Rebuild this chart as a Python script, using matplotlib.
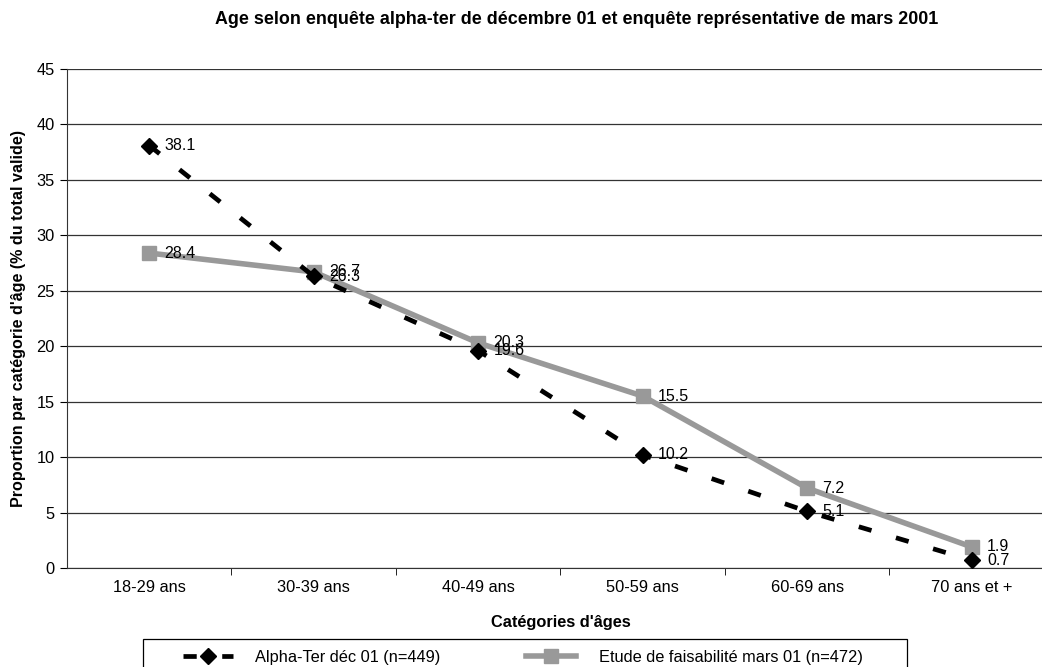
import matplotlib
matplotlib.use('Agg')
import matplotlib.pyplot as plt
from matplotlib.lines import Line2D
from matplotlib.patches import Rectangle

plt.rcParams['font.family'] = ['Liberation Sans', 'DejaVu Sans']

categories = ['18-29 ans', '30-39 ans', '40-49 ans', '50-59 ans', '60-69 ans', '70 ans et +']
alpha_ter = [38.1, 26.3, 19.6, 10.2, 5.1, 0.7]
etude = [28.4, 26.7, 20.3, 15.5, 7.2, 1.9]
yticks = list(range(0, 50, 5))
series_labels = ['Alpha-Ter déc 01 (n=449)', 'Etude de faisabilité mars 01 (n=472)']

W, H = 1042, 667
FS = 11.8
fig = plt.figure(figsize=(W / 100, H / 100), dpi=100, facecolor='white')
ax = fig.add_axes([67 / W, 1 - 568 / H, (1054 - 67) / W, (568 - 69) / H])

x = list(range(len(categories)))
GRAY = '#999999'
DASH = (0, (2.8, 5.4))
ax.plot(x, etude, color=GRAY, lw=4, marker='s', ms=10, mfc=GRAY, mec=GRAY, zorder=3)
ax.plot(x, alpha_ter, color='black', lw=3.4, ls=DASH, marker='D', ms=8,
        mfc='black', mec='black', zorder=4)

for series in (alpha_ter, etude):
    for xi, v in zip(x, series):
        ax.annotate(f'{v:.1f}', (xi, v), xytext=(11, 0), textcoords='offset points',
                    va='center', ha='left', fontsize=11.5, zorder=5)

ax.set_xlim(-0.5, len(categories) - 0.5)
ax.set_ylim(0, 45)
ax.set_yticks(yticks)
ax.set_xticks(x)
ax.set_xticklabels(categories, fontsize=FS)
ax.set_xticks([i + 0.5 for i in x[:-1]], minor=True)
ax.tick_params(axis='x', which='major', length=0, pad=9)
ax.tick_params(axis='x', which='minor', length=5, direction='out', color='black')
ax.tick_params(axis='y', length=5, direction='out', labelsize=FS, pad=4)
ax.yaxis.grid(True, color='#333333', lw=0.9)
ax.set_axisbelow(True)
for s in ['top', 'right']:
    ax.spines[s].set_visible(False)
ax.spines['left'].set_color('#333333')
ax.spines['bottom'].set_color('#333333')

ax.set_xlabel("Catégories d'âges", fontsize=FS, fontweight='bold', labelpad=14)
ax.set_ylabel("Proportion par catégorie d'âge (% du total valide)", fontsize=11.6,
              fontweight='bold', labelpad=7)
fig.text(577 / W, 1 - 19 / H,
         'Age selon enquête alpha-ter de décembre 01 et enquête représentative de mars 2001',
         ha='center', va='center', fontsize=12.9, fontweight='bold')

# legend frame (wider than its content, as in the original)
fig.add_artist(Rectangle((143 / W, 1 - 680 / H), (907 - 143) / W, (680 - 639) / H,
                         transform=fig.transFigure, fill=False, ec='black', lw=0.9))
handles = [
    Line2D([], [], color='black', lw=3.4, ls=DASH, marker='D', ms=8),
    Line2D([], [], color=GRAY, lw=4, marker='s', ms=10),
]
fig.legend(handles, series_labels, loc='upper left', ncol=2,
           bbox_to_anchor=(183 / W, 1 - 650 / H), bbox_transform=fig.transFigure,
           frameon=False, fontsize=FS, handlelength=3.05, handletextpad=1.35,
           columnspacing=5.25, borderpad=0, borderaxespad=0)

fig.savefig('out.png', dpi=100, facecolor='white')
